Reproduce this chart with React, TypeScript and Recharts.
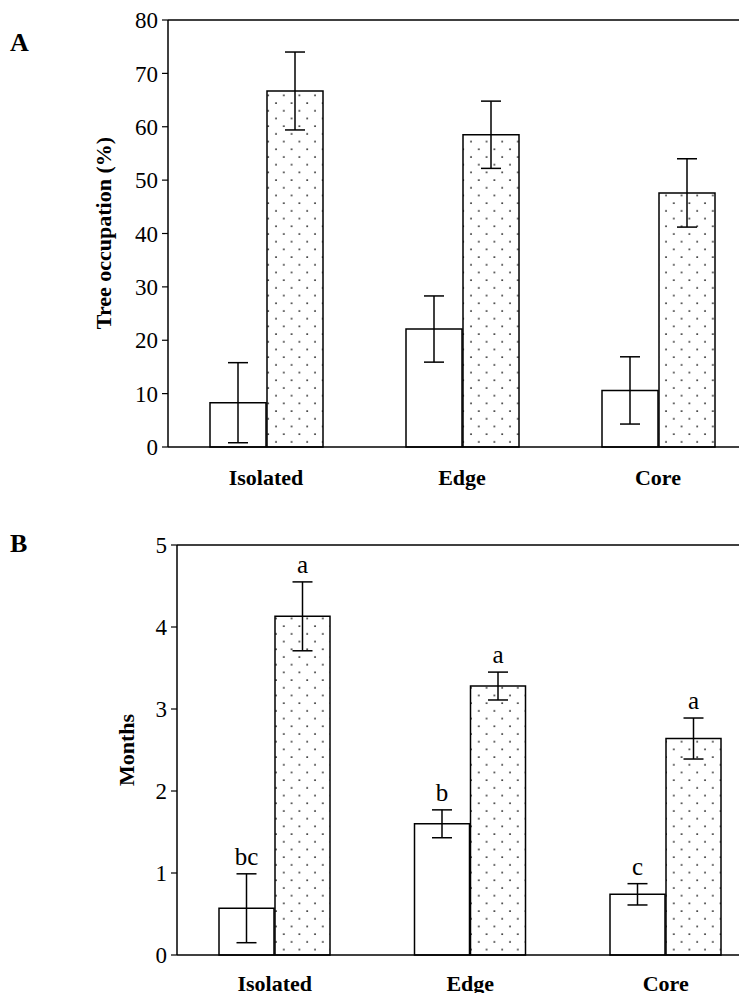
import { BarChart, Bar, XAxis, YAxis, ErrorBar, ReferenceLine, LabelList, Label } from "recharts";

const sites = ["Isolated", "Edge", "Core"];

// panel A: tree occupation (%)
const occOpen = [8.3, 22.1, 10.6];
const occOpenErr = [7.5, 6.2, 6.3];
const occDotted = [66.7, 58.5, 47.6];
const occDottedErr = [7.3, 6.3, 6.4];
const occTicks = [0, 10, 20, 30, 40, 50, 60, 70, 80];

// panel B: months
const monthsOpen = [0.57, 1.6, 0.74];
const monthsOpenErr = [0.42, 0.17, 0.13];
const monthsDotted = [4.13, 3.28, 2.64];
const monthsDottedErr = [0.42, 0.17, 0.25];
const monthsOpenLetters = ["bc", "b", "c"];
const monthsDottedLetters = ["a", "a", "a"];
const monthTicks = [0, 1, 2, 3, 4, 5];

const serif = "'Liberation Serif', 'Times New Roman', serif";

const occData = sites.map((site, i) => ({
  site,
  open: occOpen[i],
  openErr: occOpenErr[i],
  dotted: occDotted[i],
  dottedErr: occDottedErr[i],
}));

const monthData = sites.map((site, i) => ({
  site,
  open: monthsOpen[i],
  openErr: monthsOpenErr[i],
  openLetter: monthsOpenLetters[i],
  dotted: monthsDotted[i],
  dottedErr: monthsDottedErr[i],
  dottedLetter: monthsDottedLetters[i],
}));

// letter sits a little above the error bar cap
const letterLabel = (vals: number[], errs: number[]) => (props: any) => {
  const vb = props.viewBox ?? props;
  const { x, y, width, height } = vb;
  const i = props.index ?? 0;
  const pxPerUnit = height / vals[i];
  const capY = y - errs[i] * pxPerUnit;
  return (
    <text
      x={x + width / 2}
      y={capY - 9}
      textAnchor="middle"
      fontFamily={serif}
      fontSize={25}
      fill="#000"
    >
      {props.value}
    </text>
  );
};

const Dots = ({ id }: { id: string }) => (
  <defs>
    <pattern id={id} width={15.6} height={15.4} patternUnits="userSpaceOnUse">
      <rect width={15.6} height={15.4} fill="#fff" />
      <circle cx={3} cy={3} r={0.95} fill="#111" />
      <circle cx={10.8} cy={10.7} r={0.95} fill="#111" />
    </pattern>
  </defs>
);

const yTitle = (text: string, x: number, y: number) => () => (
  <text
    x={x}
    y={y}
    transform={`rotate(-90 ${x} ${y})`}
    textAnchor="middle"
    dominantBaseline="central"
    fontFamily={serif}
    fontWeight="bold"
    fontSize={22}
    fill="#000"
  >
    {text}
  </text>
);

const tickStyle = { fontFamily: serif, fontSize: 23, fill: "#000" };
const xTickStyle = { fontFamily: serif, fontSize: 22, fontWeight: "bold", fill: "#000" };

const panelLetter = (text: string, top: number) => (
  <div
    style={{
      position: "absolute",
      left: 10,
      top,
      fontFamily: serif,
      fontWeight: "bold",
      fontSize: 26,
      lineHeight: 1,
    }}
  >
    {text}
  </div>
);

export default function App() {
  return (
    <div
      style={{
        position: "relative",
        width: 747,
        height: 1001,
        margin: -8,
        overflow: "hidden",
        background: "#fff",
      }}
    >
      {panelLetter("A", 30)}
      {panelLetter("B", 531)}

      <div style={{ position: "absolute", left: 0, top: 0 }}>
        <BarChart
          width={760}
          height={490}
          data={occData}
          margin={{ top: 20, right: 4, bottom: 0, left: 0 }}
          barGap={1}
        >
          <Dots id="dotsA" />
          <XAxis
            dataKey="site"
            height={43}
            tickLine={false}
            tickSize={0}
            tickMargin={22}
            axisLine={{ stroke: "#000", strokeWidth: 1.5 }}
            tick={xTickStyle}
          />
          <YAxis
            width={168}
            domain={[0, 80]}
            ticks={occTicks}
            interval={0}
            tickSize={6}
            tickMargin={4}
            tickLine={{ stroke: "#000", strokeWidth: 1.2 }}
            axisLine={{ stroke: "#000", strokeWidth: 1.5 }}
            tick={tickStyle}
          >
            <Label content={yTitle("Tree occupation (%)", 103, 233)} />
          </YAxis>
          <ReferenceLine y={80} stroke="#000" strokeWidth={1.5} />
          <Bar dataKey="open" barSize={56} fill="#fff" stroke="#000" strokeWidth={1.5} isAnimationActive={false}>
            <ErrorBar dataKey="openErr" width={10} stroke="#000" strokeWidth={1.5} />
          </Bar>
          <Bar dataKey="dotted" barSize={56} fill="url(#dotsA)" stroke="#000" strokeWidth={1.5} isAnimationActive={false}>
            <ErrorBar dataKey="dottedErr" width={10} stroke="#000" strokeWidth={1.5} />
          </Bar>
        </BarChart>
      </div>

      <div style={{ position: "absolute", left: 0, top: 500 }}>
        <BarChart
          width={766}
          height={495}
          data={monthData}
          margin={{ top: 45, right: 2.5, bottom: 0, left: 0 }}
          barGap={1}
        >
          <Dots id="dotsB" />
          <XAxis
            dataKey="site"
            height={40}
            tickLine={false}
            tickSize={0}
            tickMargin={20}
            axisLine={{ stroke: "#000", strokeWidth: 1.5 }}
            tick={xTickStyle}
          />
          <YAxis
            width={177}
            domain={[0, 5]}
            ticks={monthTicks}
            interval={0}
            tickSize={6}
            tickMargin={4}
            tickLine={{ stroke: "#000", strokeWidth: 1.2 }}
            axisLine={{ stroke: "#000", strokeWidth: 1.5 }}
            tick={tickStyle}
          >
            <Label content={yTitle("Months", 126, 250)} />
          </YAxis>
          <ReferenceLine y={5} stroke="#000" strokeWidth={1.5} />
          <Bar dataKey="open" barSize={55} fill="#fff" stroke="#000" strokeWidth={1.5} isAnimationActive={false}>
            <ErrorBar dataKey="openErr" width={10} stroke="#000" strokeWidth={1.5} />
            <LabelList dataKey="openLetter" content={letterLabel(monthsOpen, monthsOpenErr)} />
          </Bar>
          <Bar dataKey="dotted" barSize={55} fill="url(#dotsB)" stroke="#000" strokeWidth={1.5} isAnimationActive={false}>
            <ErrorBar dataKey="dottedErr" width={10} stroke="#000" strokeWidth={1.5} />
            <LabelList dataKey="dottedLetter" content={letterLabel(monthsDotted, monthsDottedErr)} />
          </Bar>
        </BarChart>
      </div>
    </div>
  );
}
